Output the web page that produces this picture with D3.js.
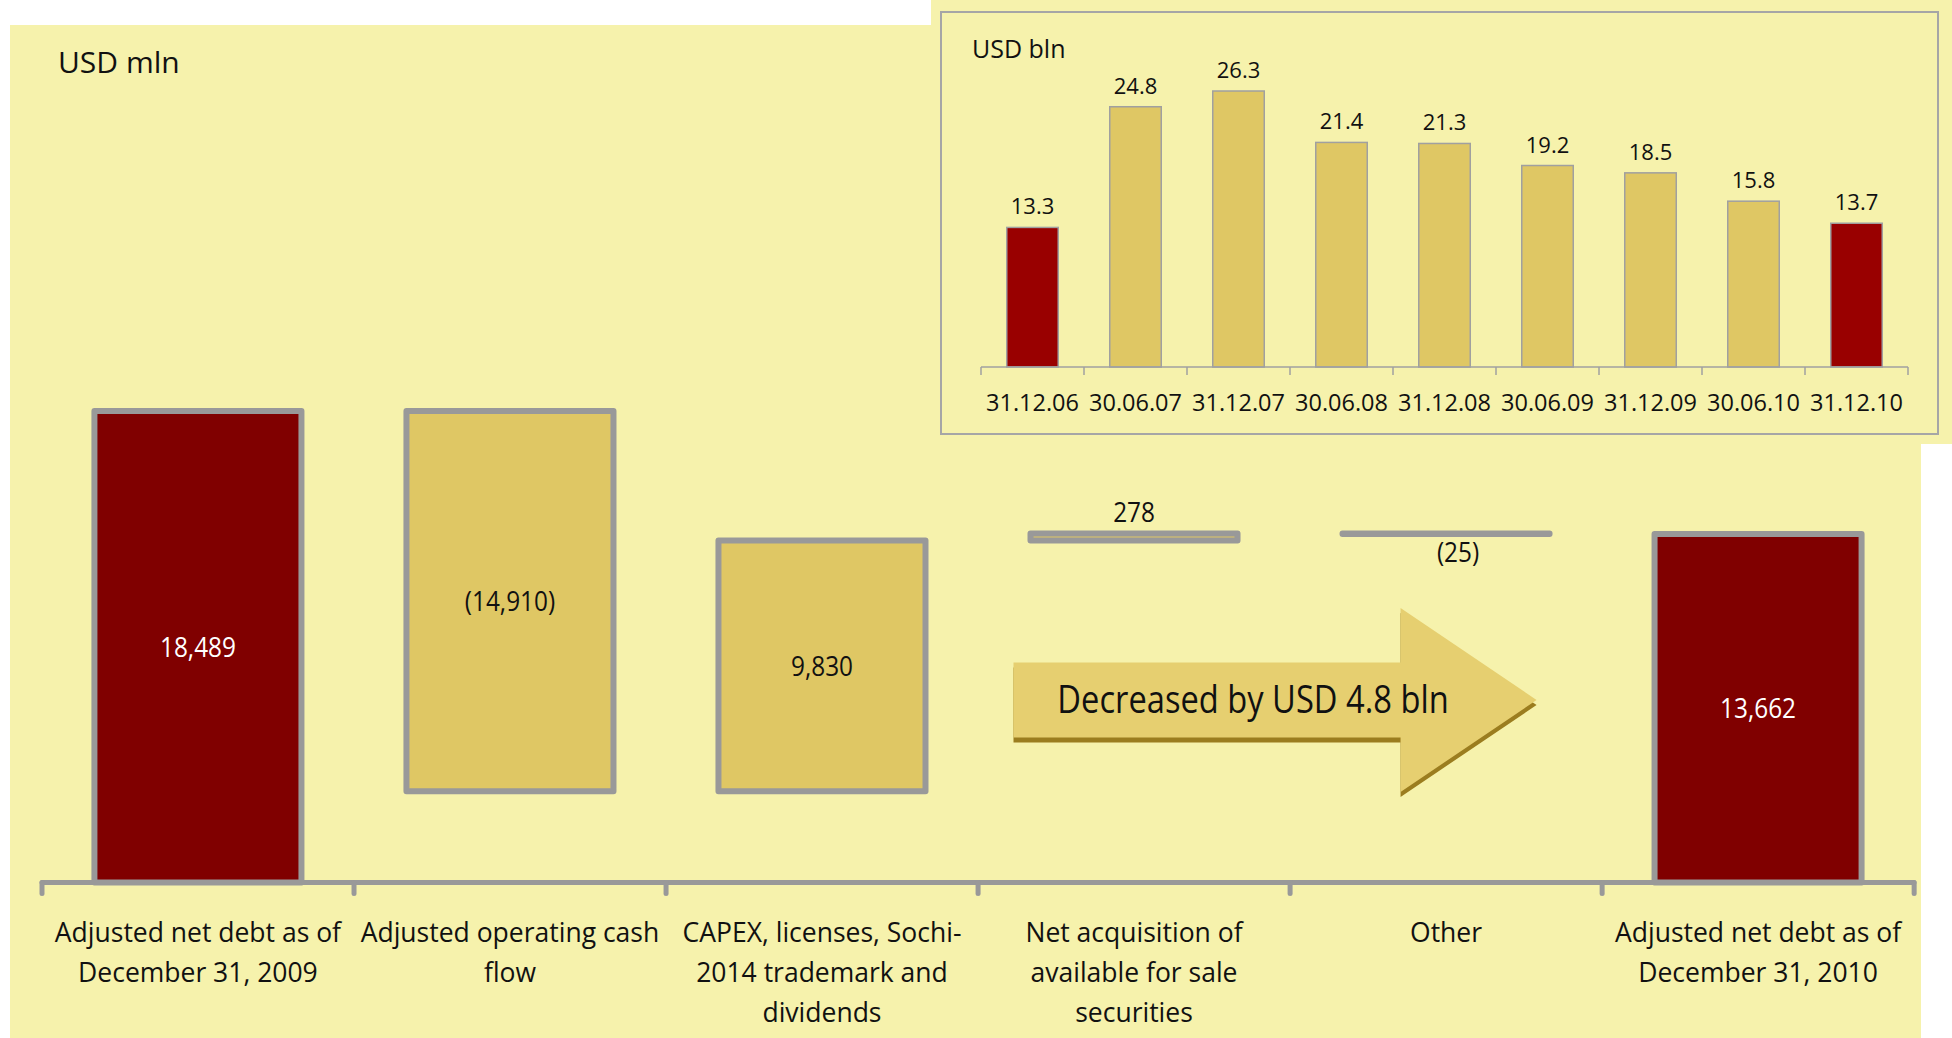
<!DOCTYPE html>
<html>
<head>
<meta charset="utf-8">
<script src="https://cdn.jsdelivr.net/npm/d3@7/dist/d3.min.js"></script>
<style>
  body { margin: 0; background: #ffffff; }
  svg { display: block; font-family: "Open Sans", "DejaVu Sans", sans-serif; }
</style>
</head>
<body>
<svg id="chart" width="1952" height="1038"></svg>
<script>
// main waterfall: change of adjusted net debt, USD mln
const categories = [
  "Adjusted net debt as of\nDecember 31, 2009",
  "Adjusted operating cash\nflow",
  "CAPEX, licenses, Sochi-\n2014 trademark and\ndividends",
  "Net acquisition of\navailable for sale\nsecurities",
  "Other",
  "Adjusted net debt as of\nDecember 31, 2010"
];
const changes = [18489, -14910, 9830, 278, -25, 13662];
const barKinds = ["total", "step", "step", "step", "step", "total"];
const valueLabels = ["18,489", "(14,910)", "9,830", "278", "(25)", "13,662"];

// inset: net debt history, USD bln
const insetDates = ["31.12.06", "30.06.07", "31.12.07", "30.06.08", "31.12.08", "30.06.09", "31.12.09", "30.06.10", "31.12.10"];
const insetValues = [13.3, 24.8, 26.3, 21.4, 21.3, 19.2, 18.5, 15.8, 13.7];
const insetHighlight = ["31.12.06", "31.12.10"];

const arrowText = "Decreased by USD 4.8 bln";

const BG = "#f6f2ac";
const GOLD = "#dfc764";
const DARK_RED = "#800000";
const RED = "#990000";
const GREY = "#999999";

const svg = d3.select("#chart");

// panels
svg.append("rect").attr("x", 10).attr("y", 25).attr("width", 1911).attr("height", 1013).attr("fill", BG);
svg.append("rect").attr("x", 931).attr("y", 0).attr("width", 1021).attr("height", 444).attr("fill", BG);
svg.append("rect").attr("x", 941).attr("y", 12).attr("width", 997).attr("height", 422)
  .attr("fill", "none").attr("stroke", "#a6a6a6").attr("stroke-width", 2);

// ---------- waterfall ----------
let running = 0;
const bars = changes.map((v, i) => {
  let from, to;
  if (barKinds[i] === "total") { from = 0; to = v; running = v; }
  else { from = running; to = running + v; running = to; }
  return { cat: categories[i], v, kind: barKinds[i], lo: Math.min(from, to), hi: Math.max(from, to), label: valueLabels[i] };
});

const x = d3.scaleBand().domain(categories).range([42, 1914]).paddingInner(0.3365).paddingOuter(0.168);
const y = d3.scaleLinear().domain([0, 18489]).range([882.5, 411]);

const main = svg.append("g");
main.selectAll("rect.bar")
  .data(bars)
  .join("rect")
  .attr("class", "bar")
  .attr("x", d => x(d.cat))
  .attr("width", x.bandwidth())
  .attr("y", d => y(d.hi))
  .attr("height", d => Math.max(0.5, y(d.lo) - y(d.hi)))
  .attr("fill", d => d.kind === "total" ? DARK_RED : GOLD)
  .attr("stroke", GREY)
  .attr("stroke-width", 6)
  .attr("stroke-linejoin", "round");

// axis with ticks at band edges
const step = x.step();
const x0 = x.range()[0];
const axis = main.append("g");
axis.append("line").attr("x1", x0).attr("x2", x.range()[1]).attr("y1", y(0)).attr("y2", y(0))
  .attr("stroke", GREY).attr("stroke-width", 5).attr("stroke-linecap", "round");
axis.selectAll("line.tick")
  .data(d3.range(categories.length + 1))
  .join("line")
  .attr("class", "tick")
  .attr("x1", i => x0 + i * step).attr("x2", i => x0 + i * step)
  .attr("y1", y(0)).attr("y2", y(0) + 11)
  .attr("stroke", GREY).attr("stroke-width", 5).attr("stroke-linecap", "round");

// value labels
const small = d => d.hi - d.lo < 1000;
main.selectAll("g.vlabel")
  .data(bars)
  .join("g")
  .attr("class", "vlabel")
  .attr("transform", d => {
    let cx = x(d.cat) + x.bandwidth() / 2;
    let cy;
    if (!small(d)) cy = (y(d.lo) + y(d.hi)) / 2 + 10;
    else if (d.v > 0) cy = y(d.hi) - 11;
    else { cy = y(d.lo) + 28; cx += 12; }
    return `translate(${cx},${cy}) scale(0.87,1)`;
  })
  .append("text")
  .attr("text-anchor", "middle")
  .attr("font-size", 28)
  .attr("fill", d => d.kind === "total" ? "#ffffff" : "#111111")
  .text(d => d.label);

// category labels
main.selectAll("text.cat")
  .data(categories)
  .join("text")
  .attr("class", "cat")
  .attr("text-anchor", "middle")
  .attr("font-size", 26.5)
  .attr("fill", "#111111")
  .attr("x", d => x(d) + x.bandwidth() / 2)
  .attr("y", 942)
  .selectAll("tspan")
  .data(d => d.split("\n"))
  .join("tspan")
  .attr("x", function () { return d3.select(this.parentNode).attr("x"); })
  .attr("dy", (d, i) => i === 0 ? 0 : 40)
  .text(d => d);

svg.append("text").attr("x", 58).attr("y", 73).attr("font-size", 30).attr("fill", "#111111").text("USD mln");

// annotation arrow spanning the small items
const ax0 = x(categories[3]) - 17;
const ax1 = x(categories[4]) + x.bandwidth() - 13;
const headX = ax1 - 136;
const acy = 700, bodyH = 37.5, headH = 92;
const arrowPath = `M${ax0},${acy - bodyH} H${headX} V${acy - headH} L${ax1},${acy} L${headX},${acy + headH} V${acy + bodyH} H${ax0} Z`;
svg.append("path").attr("d", arrowPath).attr("fill", "#9b7d1f").attr("transform", "translate(0,5)");
svg.append("path").attr("d", arrowPath).attr("fill", "#e6cf70");
svg.append("g")
  .attr("transform", `translate(${(ax0 + ax1) / 2 - 22},${acy + 13}) scale(0.86,1)`)
  .append("text")
  .attr("text-anchor", "middle")
  .attr("font-size", 38)
  .attr("fill", "#111111")
  .text(arrowText);

// ---------- inset ----------
const xi = d3.scaleBand().domain(insetDates).range([981, 1908]).paddingInner(0.5).paddingOuter(0.25);
const yi = d3.scaleLinear().domain([0, 26.3]).range([367, 91]);
const inset = svg.append("g");

inset.selectAll("rect")
  .data(insetDates)
  .join("rect")
  .attr("x", d => xi(d))
  .attr("width", xi.bandwidth())
  .attr("y", (d, i) => yi(insetValues[i]))
  .attr("height", (d, i) => yi(0) - yi(insetValues[i]))
  .attr("fill", d => insetHighlight.includes(d) ? RED : GOLD)
  .attr("stroke", "#a0a0a0")
  .attr("stroke-width", 1.5);

inset.selectAll("text.val")
  .data(insetDates)
  .join("text")
  .attr("class", "val")
  .attr("text-anchor", "middle")
  .attr("font-size", 22)
  .attr("fill", "#111111")
  .attr("x", d => xi(d) + xi.bandwidth() / 2)
  .attr("y", (d, i) => yi(insetValues[i]) - 13)
  .text((d, i) => insetValues[i].toFixed(1));

const istep = xi.step();
const ix0 = xi.range()[0];
inset.append("line").attr("x1", ix0).attr("x2", xi.range()[1]).attr("y1", yi(0)).attr("y2", yi(0))
  .attr("stroke", "#a0a0a0").attr("stroke-width", 1.5);
inset.selectAll("line.tick")
  .data(d3.range(insetDates.length + 1))
  .join("line")
  .attr("class", "tick")
  .attr("x1", i => ix0 + i * istep).attr("x2", i => ix0 + i * istep)
  .attr("y1", yi(0)).attr("y2", yi(0) + 8)
  .attr("stroke", "#a0a0a0").attr("stroke-width", 1.5);

inset.selectAll("text.date")
  .data(insetDates)
  .join("text")
  .attr("class", "date")
  .attr("text-anchor", "middle")
  .attr("font-size", 23.5)
  .attr("fill", "#111111")
  .attr("x", d => xi(d) + xi.bandwidth() / 2)
  .attr("y", 411)
  .text(d => d);

svg.append("text").attr("x", 972).attr("y", 58).attr("font-size", 25).attr("fill", "#111111").text("USD bln");
</script>
</body>
</html>
